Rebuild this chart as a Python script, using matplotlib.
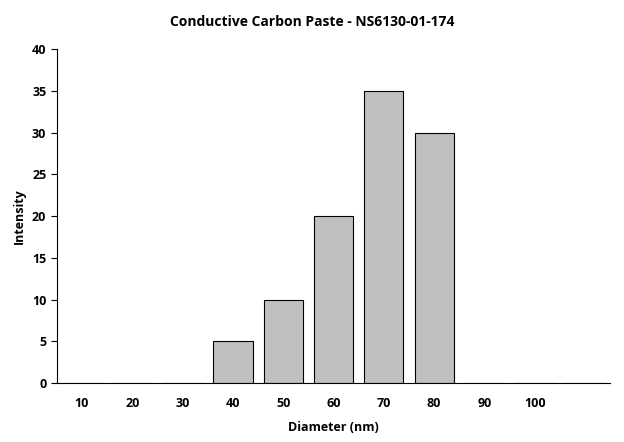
import matplotlib
matplotlib.use("Agg")
import matplotlib.pyplot as plt

categories = ["10", "20", "30", "40", "50", "60", "70", "80", "90", "100", ""]
values = [0, 0, 0, 5, 10, 20, 35, 30, 0, 0, 0]

plt.rcParams['font.family'] = ['Open Sans', 'DejaVu Sans']
fig = plt.figure(figsize=(6.24, 4.42), dpi=100)
ax = fig.add_axes([0.091, 0.133, 0.887, 0.756])
x = list(range(len(categories)))
ax.bar(x, values, width=0.78, color="#c0c0c0", edgecolor="black", linewidth=0.8)
ax.set_xlim(-0.5, len(categories) - 0.5)
ax.set_ylim(0, 40)
ax.set_yticks(range(0, 41, 5))
ax.set_xticks(x)
ax.set_xticklabels(categories, fontsize=9, fontweight="bold")
for lbl in ax.get_yticklabels():
    lbl.set_fontsize(9); lbl.set_fontweight("bold")
ax.tick_params(axis='x', length=0, pad=10)
ax.tick_params(axis='y', length=4, direction='out')
ax.spines['top'].set_visible(False)
ax.spines['right'].set_visible(False)
ax.set_xlabel("Diameter (nm)", fontsize=9, fontweight="bold", labelpad=8)
ax.set_ylabel("Intensity", fontsize=9, fontweight="bold")
fig.suptitle("Conductive Carbon Paste - NS6130-01-174", fontsize=10, fontweight="bold", y=0.965)
fig.savefig("out.png", dpi=100)
